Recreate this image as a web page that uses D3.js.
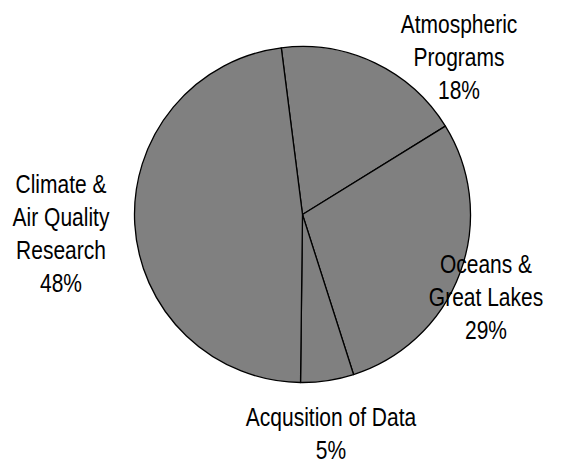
<!DOCTYPE html>
<html>
<head>
<meta charset="utf-8">
<script src="https://cdn.jsdelivr.net/npm/d3@7"></script>
<style>
  html, body { margin: 0; padding: 0; background: #fff; }
  svg text { font-family: "Liberation Sans Narrow", "Arial Narrow", "Liberation Sans", Arial, sans-serif; font-size: 25px; fill: #000; }
</style>
</head>
<body>
<svg id="chart" width="580" height="466"></svg>
<script>
// Budget shares by program area (percent)
const categories = ["Atmospheric Programs", "Oceans & Great Lakes", "Acqusition of Data", "Climate & Air Quality Research"];
const values = [18.2, 28.9, 5.1, 47.8];
const labelLines = [
  ["Atmospheric", "Programs", "18%"],
  ["Oceans &", "Great Lakes", "29%"],
  ["Acqusition of Data", "5%"],
  ["Climate &", "Air Quality", "Research", "48%"]
];

const width = 580, height = 466;
const cx = 302.5, cy = 214.5, radius = 168;
const startDeg = -7.25;

const svg = d3.select("#chart");
const g = svg.append("g").attr("transform", `translate(${cx},${cy})`);

const pie = d3.pie()
  .sort(null)
  .value(d => d)
  .startAngle(startDeg * Math.PI / 180)
  .endAngle((startDeg + 360) * Math.PI / 180);

const arc = d3.arc().innerRadius(0).outerRadius(radius);

g.selectAll("path.slice")
  .data(pie(values))
  .join("path")
  .attr("class", "slice")
  .attr("d", arc)
  .attr("fill", "#808080")
  .attr("stroke", "#000")
  .attr("stroke-width", 1.3)
  .attr("stroke-linejoin", "round");

// Label block centres (page coordinates), one per slice
const labelAnchor = [
  { x: 459, y: 57 },
  { x: 486, y: 297 },
  { x: 331, y: 434 },
  { x: 61, y: 234 }
];
const lineH = 33;
// Condensed lettering: squeeze the regular face horizontally
const squeeze = 0.84;

labelLines.forEach((lines, i) => {
  const a = labelAnchor[i];
  const top = -(lines.length - 1) * lineH / 2;
  const t = svg.append("text")
    .attr("text-anchor", "middle")
    .attr("transform", `translate(${a.x},${a.y}) scale(${squeeze},1)`);
  lines.forEach((s, j) => {
    t.append("tspan")
      .attr("x", 0)
      .attr("y", top + j * lineH)
      .attr("dy", "0.35em")
      .text(s);
  });
});
</script>
</body>
</html>
